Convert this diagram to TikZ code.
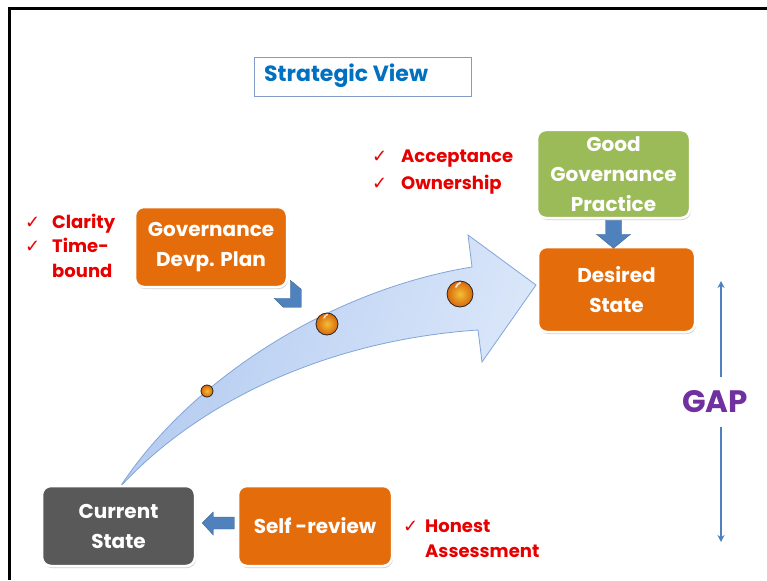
\documentclass[tikz,border=0pt]{standalone}
\usepackage{fontspec}
\setmainfont{Poppins}
\newfontfamily\symf{DejaVu Sans}
\usetikzlibrary{shadows,arrows.meta,calc}
\definecolor{orng}{RGB}{228,108,10}
\definecolor{grn}{RGB}{155,187,89}
\definecolor{dgray}{RGB}{89,89,89}
\definecolor{blu}{RGB}{79,129,189}
\definecolor{tblue}{RGB}{0,112,192}
\definecolor{redt}{RGB}{230,0,0}
\definecolor{purp}{RGB}{112,48,160}
\definecolor{abord}{RGB}{130,165,215}
\definecolor{arrA}{RGB}{178,202,240}
\definecolor{arrB}{RGB}{220,232,250}
\tikzset{
  box/.style={rounded corners=9pt, draw=white, line width=2.5pt, text=white,
    font=\fontsize{20}{30}\selectfont\bfseries, align=center, inner sep=2pt,
    drop shadow={shadow xshift=1pt, shadow yshift=-2pt, opacity=0.35, fill=gray}},
  redtxt/.style={text=redt, font=\fontsize{18}{25}\selectfont\bfseries, align=left, inner sep=0pt},
  chk/.style={text=redt, font=\symf\fontsize{18}{18}\selectfont, inner sep=0pt, anchor=base west},
  blockarrow/.style={fill=blu, draw=blu!80!black, line width=0.4pt},
  gaparrow/.style={draw=blu, line width=1.4pt, -{Stealth[length=7pt,width=7pt]}},
  orb/.style={inner color=orng!55!yellow!80!white, outer color=orng!95!black, draw=black!85, line width=0.8pt}
}
\begin{document}
\begin{tikzpicture}[x=1pt,y=-1pt]
\useasboundingbox (0,0) rectangle (767,580);
\fill[white] (0,0) rectangle (767,580);
\draw[line width=3pt] (767,9) -- (9,9) -- (9,580);

% title
\node[draw=abord!80!gray, line width=0.8pt, minimum width=217pt, minimum height=39pt, inner sep=0pt] (title) at (362.5,76.5) {};
\node[anchor=west, text=tblue, font=\fontsize{22}{24}\selectfont\bfseries, inner sep=0pt] (titletxt) at (264,76) {Strategic View};

% curved arrow
\shade[left color=arrA, right color=arrB, draw=abord, line width=0.8pt, shading angle=70]
  (120,487) .. controls (190,380) and (330,290) .. (472,267)
  -- (468,235) -- (536,285) -- (482,362) -- (478,330)
  .. controls (330,340) and (200,400) .. (120,487) -- cycle;

% orbs
\path[orb] (207,391) circle (6);
\path[orb] (327,324) circle (11);
\path[orb] (460,294) circle (13);
\draw[white, line width=1.5pt, line cap=round, opacity=0.8] (324,318) arc (200:250:6);
\draw[white, line width=1.8pt, line cap=round, opacity=0.8] (456,287) arc (200:250:7);

% boxes
\node[box, fill=orng, minimum width=152pt, minimum height=80pt] (gov) at (211,247) {Governance\\Devp. Plan};
\node[box, fill=grn, minimum width=153pt, minimum height=88pt] (gg) at (613.5,174) {Good\\Governance\\Practice};
\node[box, fill=orng, minimum width=157pt, minimum height=85pt] (des) at (616.5,289.5) {Desired\\State};
\node[box, fill=dgray, minimum width=153pt, minimum height=80pt] (cur) at (118.5,526) {Current\\State};
\node[box, fill=orng, minimum width=154pt, minimum height=80pt] (self) at (315,526) {Self -review};

% chevron under governance plan
\begin{scope}[shift={(gov.south east)}]
\fill[blockarrow] (2,-8) -- (13,1) -- (13,19) -- (-5,19) -- (-14,10) -- (2,10) -- cycle;
\end{scope}
% down arrow
\begin{scope}[shift={(gg.south)}]
\fill[blockarrow] (-8,1) -- (8,1) -- (8,15) -- (17,15) -- (0,29) -- (-17,15) -- (-8,15) -- cycle;
\end{scope}
% left arrow
\begin{scope}[shift={(cur.east)}]
\fill[blockarrow] (6,-3) -- (17,-14) -- (17,-9) -- (38,-9) -- (38,3) -- (17,3) -- (17,9) -- cycle;
\end{scope}

% red lists
\node[chk] (c1) at (25,228) {✓};
\node[chk] (c2) at (25,252) {✓};
\node[redtxt, anchor=base west] (t1) at (52,228) {Clarity};
\node[redtxt, anchor=base west] (t2) at (52,252) {Time-};
\node[redtxt, anchor=base west] (t3) at (52,277) {bound};

\node[chk] (c3) at (372,163) {✓};
\node[chk] (c4) at (372,189) {✓};
\node[redtxt, anchor=base west] (t4) at (401,163) {Acceptance};
\node[redtxt, anchor=base west] (t5) at (401,189) {Ownership};

\node[chk] (c5) at (403,532) {✓};
\node[redtxt, anchor=base west] (t6) at (425,532) {Honest};
\node[redtxt, anchor=base west] (t7) at (425,557) {Assessment};

% GAP
\node[text=purp, font=\fontsize{31}{34}\selectfont\bfseries, inner sep=0pt] (gap) at (715,402) {GAP};
\coordinate (gtop) at (721,281);
\coordinate (gbot) at (721,542);
\draw[gaparrow] (721,377) -- (gtop);
\draw[gaparrow] (721,427) -- (gbot);
\end{tikzpicture}
\end{document}
